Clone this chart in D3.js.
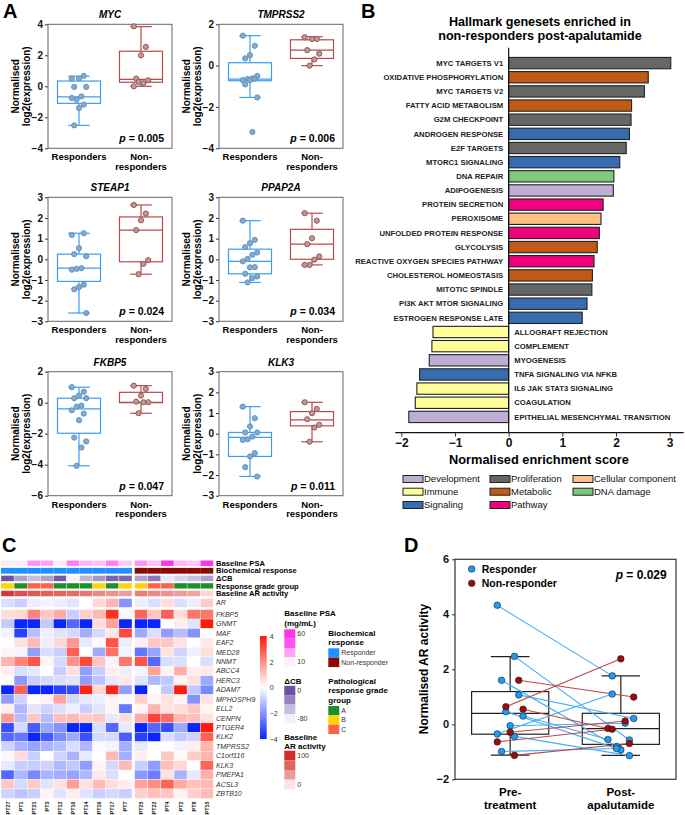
<!DOCTYPE html>
<html>
<head>
<meta charset="utf-8">
<script src="https://cdn.jsdelivr.net/npm/d3@7"></script>
<style>
  body { margin: 0; background: #fff; }
</style>
</head>
<body>
<svg id="fig" width="685" height="815"></svg>
<script>
// ---------- Panel A: per-gene expression ----------
var genesA = ["MYC", "TMPRSS2", "STEAP1", "PPAP2A", "FKBP5", "KLK3"];
var pValuesA = ["0.005", "0.006", "0.024", "0.034", "0.047", "0.011"];
var yDomainsA = [[-4, 4], [-4, 2], [-3, 3], [-3, 3], [-6, 2], [-3, 3]];
var yTicksA = [[-4, -2, 0, 2, 4], [-4, -2, 0, 2], [-3, -2, -1, 0, 1, 2, 3],
               [-3, -2, -1, 0, 1, 2, 3], [-6, -4, -2, 0, 2], [-3, -2, -1, 0, 1, 2, 3]];
var groupsA = ["Responders", "Non-responders"];

var mycResp = [0.5, 0.67, 0.5, -0.04, -0.04, -0.65, -0.86, -0.75, -1.18, -1.4, -2.52];
var mycNon = [3.87, 2.54, 2.0, 0.5, 0.39, 0.2, 0.28, 0];
var tmprss2Resp = [1.45, 0.96, 0.51, 0.35, -0.5, -0.62, -0.65, -0.7, -0.64, -0.7, -0.91, -1.54, -3.21];
var tmprss2Non = [1.37, 1.29, 1.29, 0.75, 0.58, 0.3, 0];
var steap1Resp = [1.18, 1.26, 0.54, 0.25, 0.15, -0.43, -0.46, -0.5, -1.23, -1.34, -1.45, -2.6];
var steap1Non = [2.63, 2.21, 1.89, 1.41, -0.04, -0.22, -0.72];
var ppap2aResp = [1.87, 0.94, 0.78, 0.59, 0.33, 0.22, 0.02, -0.1, -0.38, -0.39, -0.7, -0.83, -0.91, -1.12];
var ppap2aNon = [2.23, 1.87, 1.02, 0.73, 0.14, -0.02, -0.27, -0.27];
var fkbp5Resp = [1.0, 0.71, 0.46, 0.29, 0.29, -0.19, -0.25, -0.49, -0.7, -1.13, -2.25, -2.5, -2.89, -4.07];
var fkbp5Non = [1.1, 0.89, 0.46, 0.07, 0.03, 0.03, -0.68];
var klk3Resp = [1.31, 0.75, 0.35, 0.06, 0.06, -0.14, -0.27, -0.3, -0.94, -1.1, -1.62, -2.07];
var klk3Non = [1.52, 1.2, 0.99, 0.7, 0.43, 0.3, -0.39];

// box stats: [low whisker, q1, median, q3, high whisker]
var boxRespA = [[-2.52, -1.1, -0.68, 0.34, 0.65], [-1.54, -0.73, -0.65, 0.14, 1.45],
                [-2.6, -1.07, -0.43, 0.25, 1.26], [-1.12, -0.7, -0.1, 0.49, 1.87],
                [-4.07, -1.97, -0.4, 0.29, 1.0], [-2.07, -1.1, -0.18, 0.06, 1.31]];
var boxNonA = [[0, 0.26, 0.45, 2.26, 3.85], [0, 0.35, 0.75, 1.25, 1.4],
               [-0.72, -0.12, 1.41, 2.05, 2.63], [-0.27, 0, 0.73, 1.45, 2.23],
               [-0.68, 0, 0.03, 0.67, 1.1], [-0.39, 0.38, 0.67, 1.07, 1.52]];
var respPointsA = [mycResp, tmprss2Resp, steap1Resp, ppap2aResp, fkbp5Resp, klk3Resp];
var nonPointsA = [mycNon, tmprss2Non, steap1Non, ppap2aNon, fkbp5Non, klk3Non];

// ---------- Panel B: hallmark genesets ----------
var hallmarkSets = ["MYC TARGETS V1", "OXIDATIVE PHOSPHORYLATION", "MYC TARGETS V2", "FATTY ACID METABOLISM",
  "G2M CHECKPOINT", "ANDROGEN RESPONSE", "E2F TARGETS", "MTORC1 SIGNALING", "DNA REPAIR", "ADIPOGENESIS",
  "PROTEIN SECRETION", "PEROXISOME", "UNFOLDED PROTEIN RESPONSE", "GLYCOLYSIS", "REACTIVE OXYGEN SPECIES PATHWAY",
  "CHOLESTEROL HOMEOSTASIS", "MITOTIC SPINDLE", "PI3K AKT MTOR SIGNALING", "ESTROGEN RESPONSE LATE",
  "ALLOGRAFT REJECTION", "COMPLEMENT", "MYOGENESIS", "TNFA SIGNALING VIA NFKB", "IL6 JAK STAT3 SIGNALING",
  "COAGULATION", "EPITHELIAL MESENCHYMAL TRANSITION"];
var nesScores = [3.02, 2.60, 2.53, 2.29, 2.28, 2.25, 2.19, 2.07, 1.96, 1.95, 1.76, 1.72, 1.69, 1.65,
  1.59, 1.56, 1.55, 1.46, 1.37, -1.41, -1.43, -1.48, -1.66, -1.71, -1.74, -1.86];
var setClass = ["Proliferation", "Metabolic", "Proliferation", "Metabolic", "Proliferation", "Signaling",
  "Proliferation", "Signaling", "DNA damage", "Development", "Pathway", "Cellular component", "Pathway",
  "Metabolic", "Pathway", "Metabolic", "Proliferation", "Signaling", "Signaling", "Immune", "Immune",
  "Development", "Signaling", "Immune", "Immune", "Development"];
var classNames = ["Development", "Immune", "Signaling", "Proliferation", "Metabolic", "Pathway",
  "Cellular component", "DNA damage"];
var classColors = ["#beaed4", "#ffff99", "#386cb0", "#666666", "#bf5b17", "#f0027f", "#fdc086", "#7fc97f"];
var nesTicks = [-2, -1, 0, 1, 2, 3];

// ---------- Panel C: heatmap ----------
var samplesC = ["PT27", "PT1", "PT21", "PT3", "PT12", "PT10", "PT14", "PT16", "PT17", "PT7",
                "PT25", "PT22", "PT4", "PT2", "PT8", "PT15"];
var psaBaseline = [11, 11, 35, 30, 11, 40, 25, 22, 40, 20, 35, 22, 60, 25, 20, 60];
var biochemResponse = ["Responder", "Responder", "Responder", "Responder", "Responder", "Responder",
  "Responder", "Responder", "Responder", "Responder", "Non-responder", "Non-responder", "Non-responder",
  "Non-responder", "Non-responder", "Non-responder"];
var deltaCB = [0, -40, -55, -40, -5, -80, -50, -35, -10, -10, -40, -20, -75, -65, -55, -40];
var gradeGroup = ["B", "A", "C", "C", "A", "A", "A", "B", "A", "B", "B", "C", "C", "A", "A", "A"];
var arBaseline = [95, 80, 75, 72, 70, 65, 60, 50, 45, 40, 55, 50, 45, 40, 35, 8];
var arExpression = [-0.6, -0.9, -0.3, -0.2, -0.3, -0.5, 0, 0.7, 1.3, -2.0, -0.3, -0.6, 0.6, -0.6, -0.3, 0.9];
var annotRows = ["Baseline PSA", "Biochemical response", "\u0394CB", "Response grade group", "Baseline AR activity"];
var heatGenes = ["FKBP5", "GNMT", "MAF", "EAF2", "MED28", "NNMT", "ABCC4", "HERC3", "ADAM7", "MPHOSPH9",
  "ELL2", "CENPN", "PTGER4", "KLK2", "TMPRSS2", "C1orf116", "KLK3", "PMEPA1", "ACSL3", "ZBTB10"];
var heatValues = [
  [0.6, 0.7, 2.2, 1.0, 1.5, -0.9, 0.8, 1.2, 3.6, -0.1, 2.7, 1.0, 2.8, 0.6, 2.4, 2.4],
  [-1.0, -4, -4, -1.0, -4, -2.8, -4, 0.6, 1.6, -4, -4, -4, 0, 0.3, -0.5, 4],
  [-0.2, -3.5, -1.2, -0.3, -0.5, -0.7, -1.5, -0.7, 0.4, 3.2, -1.6, -0.6, -1.8, -1.2, -2.0, 0],
  [0, 0.5, 1.2, -0.3, 0.7, 1.8, -0.4, 0.1, 3.0, -0.3, 0.3, 1.0, 1.0, 0.5, 0, 0.4],
  [0.2, -0.2, -1.8, -0.6, -0.9, 2.8, 0, -1.6, 2.5, -0.2, -2.5, -1.7, 0.5, -0.8, -0.3, 0.6],
  [1.3, 2.2, 3.0, 0.2, -0.7, 1.9, 3.2, 1.0, -0.2, 2.4, 3.0, -2.8, -0.6, -0.6, 0, -0.6],
  [0.3, -0.6, -0.4, 0, -0.9, 0.5, -1.8, -0.9, 0.3, -0.3, -0.2, 1.6, 0.2, 1.4, 0.3, 0.4],
  [0, -1.9, -0.9, -0.7, -0.6, -0.5, -1.8, -1.1, -0.4, 0.4, -0.5, -1.3, -1.0, 0.2, 0.5, -1.6],
  [-4, 2.8, -4, -4, -3.5, -3.3, 3.8, 0.7, 3.8, -1.8, -4, 0, -1.0, 4, -1.0, -2.2],
  [-1.8, -0.8, 0, 0.2, 1.6, -0.7, -0.4, -0.3, 0.2, -0.1, 0.8, 0.2, 0.5, 0.2, -2.0, 0.5],
  [0.3, -1.3, -0.5, -0.8, -0.6, -0.3, -0.9, -0.5, 0.2, -2.5, 0.2, 1.3, 0.5, 0.6, 1.0, 0.2],
  [1.8, -1.2, 1.0, -1.2, 1.1, 1.2, 0.9, 1.0, -0.4, 0.6, 1.5, 3.3, 2.6, 1.2, 1.1, 0.5],
  [-3.3, -0.7, -3.0, -1.6, -2.0, -4, -4, -0.6, -2.8, -0.4, -4, -2.8, -3.3, -1.6, -4, 4],
  [-2.8, -2.5, -4, -3.0, -2.2, -1.6, -3.2, -0.7, -0.7, -3.0, -3.5, -4, -0.6, -1.0, -0.8, 2.8],
  [-0.8, -1.4, -1.7, -1.4, -1.2, -0.6, -1.3, -0.1, -0.2, -1.5, -0.4, 0, 0, -0.2, 0.3, 1.3],
  [-0.1, 0.6, -0.9, 0, -0.8, -1.4, -0.4, 0, 1.2, -1.5, 0.3, 0, 1.0, 0.1, 0.9, 1.3],
  [-0.4, -0.9, -0.9, -0.8, -1.3, -1.0, -1.8, 0.2, -0.7, 1.2, -0.9, -1.8, 1.1, 0.7, 0, 2.7],
  [-2.8, -1.3, -2.2, -1.4, -1.5, -1.7, -1.3, 0.4, -0.6, 0, -1.9, -2.4, 0.5, -1.4, -0.4, 1.4],
  [1.0, -0.7, 0.9, -0.5, 0.5, 1.7, 0.5, 1.2, 0.6, 0.3, 1.6, 2.0, 2.7, 1.5, 1.1, 1.2],
  [-0.8, -1.1, -0.9, 0.2, -0.5, 0.3, -0.5, -0.9, -0.7, -0.9, 0.8, 1.1, 1.0, 0.2, 0.8, 1.2]
];
var heatTicks = [-4, -2, 0, 2, 4];
var psaLegend = [60, 52, 30, 10];
var cbLegend = [0, -25, -55, -80];
var arLegend = [100, 70, 40, 0];
var responseNames = ["Responder", "Non-responder"];
var gradeNames = ["A", "B", "C"];

// ---------- Panel D: AR activity pre/post ----------
var respPre = [4.33, 2.47, 1.6, 1.07, 0.46, 0.3, -0.05, -0.35, -0.44, -0.99];
var respPost = [1.76, -0.57, -0.81, 0.21, -0.93, -0.55, 0.04, 1.1, -1.14, -0.88];
var nonPre = [1.6, 0.64, 0.55, -0.29, -0.64, -1.13];
var nonPost = [0.99, 2.38, -0.15, 0.12, -0.18, -0.7];
var preBox = [-1.12, -0.36, 0.4, 1.19, 2.46];
var postBox = [-1.13, -0.73, -0.16, 0.4, 1.76];
var timepoints = ["Pre-treatment", "Post-apalutamide"];
var arTicks = [-2, 0, 2, 4, 6];

// =====================================================================
var FONT = "'Liberation Sans', Arial, Helvetica, sans-serif";
var svg = d3.select("#fig").style("font-family", FONT);
var intFmt = d3.format("d");

function styleAxis(sel, size) {
  sel.attr("font-family", FONT).attr("font-size", size).attr("font-weight", "bold");
  sel.selectAll(".tick line").attr("stroke", "#333");
  sel.selectAll(".tick text").attr("fill", "#111");
}

function letter(t, x, y) {
  svg.append("text").attr("x", x).attr("y", y).attr("font-size", 20)
    .attr("font-weight", "bold").text(t);
}
letter("A", 3, 18);
letter("B", 361, 18);
letter("C", 2, 552);
letter("D", 404, 552);

// ---------- A ----------
var colX = [48, 219], rowY = [24.3, 197.3, 371.7];
var respCol = "#3d9df2", nonCol = "#b84a4a";
function jitter(k) { return ((k * 5) % 7 - 3) * 2.4; }

function drawBox(g, cx, bw, y, s, col, sw) {
  g.append("line").attr("x1", cx).attr("x2", cx).attr("y1", y(s[0])).attr("y2", y(s[1]))
    .attr("stroke", col).attr("stroke-width", sw);
  g.append("line").attr("x1", cx).attr("x2", cx).attr("y1", y(s[3])).attr("y2", y(s[4]))
    .attr("stroke", col).attr("stroke-width", sw);
  [s[0], s[4]].forEach(function(v) {
    g.append("line").attr("x1", cx - bw / 4).attr("x2", cx + bw / 4).attr("y1", y(v)).attr("y2", y(v))
      .attr("stroke", col).attr("stroke-width", sw);
  });
  g.append("rect").attr("x", cx - bw / 2).attr("width", bw).attr("y", y(s[3]))
    .attr("height", y(s[1]) - y(s[3])).attr("fill", "none").attr("stroke", col).attr("stroke-width", sw);
  g.append("line").attr("x1", cx - bw / 2).attr("x2", cx + bw / 2).attr("y1", y(s[2])).attr("y2", y(s[2]))
    .attr("stroke", col).attr("stroke-width", sw);
}

genesA.forEach(function(gene, i) {
  var w = 124, h = 124;
  var g = svg.append("g")
    .attr("transform", "translate(" + colX[i % 2] + "," + rowY[Math.floor(i / 2)] + ")");
  var x = d3.scaleBand().domain(groupsA).range([0, w]).paddingInner(0.306).paddingOuter(0.153);
  var y = d3.scaleLinear().domain(yDomainsA[i]).range([h, 0]);
  var bw = x.bandwidth();

  g.append("g").call(d3.axisLeft(y).tickValues(yTicksA[i]).tickFormat(intFmt).tickSize(3).tickPadding(2))
    .call(function(a) { a.select(".domain").remove(); styleAxis(a, 10); });
  g.append("rect").attr("width", w).attr("height", h).attr("fill", "none")
    .attr("stroke", "#666").attr("stroke-width", 1);

  var sets = [[respPointsA[i], boxRespA[i], respCol], [nonPointsA[i], boxNonA[i], nonCol]];
  sets.forEach(function(st, j) {
    var cx = x(groupsA[j]) + bw / 2;
    drawBox(g, cx, bw, y, st[1], st[2], 1.2);
    g.selectAll(null).data(st[0]).enter().append("circle")
      .attr("cx", function(d, k) { return cx + jitter(k); })
      .attr("cy", function(d) { return y(d); })
      .attr("r", 2.6).attr("fill", "#a3a3a3").attr("stroke", st[2]).attr("stroke-width", 1);
  });

  g.append("text").attr("x", w / 2).attr("y", -6).attr("text-anchor", "middle")
    .attr("font-size", 10).attr("font-weight", "bold").attr("font-style", "italic").text(gene);
  var pt = g.append("text").attr("x", w - 8).attr("y", h - 6).attr("text-anchor", "end")
    .attr("font-size", 10.5).attr("font-weight", "bold");
  pt.append("tspan").attr("font-style", "italic").text("p");
  pt.append("tspan").text(" = " + pValuesA[i]);

  var lab = g.append("g").attr("font-size", 9.5).attr("font-weight", "bold").attr("text-anchor", "middle");
  lab.append("text").attr("x", x("Responders") + bw / 2).attr("y", h + 12).text("Responders");
  lab.append("text").attr("x", x("Non-responders") + bw / 2).attr("y", h + 12).text("Non-");
  lab.append("text").attr("x", x("Non-responders") + bw / 2).attr("y", h + 21.5).text("responders");

  var yt = g.append("g").attr("font-size", 10).attr("font-weight", "bold").attr("text-anchor", "middle");
  yt.append("text").attr("transform", "translate(-29," + h / 2 + ") rotate(-90)").text("Normalised");
  yt.append("text").attr("transform", "translate(-18," + h / 2 + ") rotate(-90)").text("log2(expression)");
});

// ---------- B ----------
(function() {
  var xB = d3.scaleLinear().domain([-2, 3]).range([401.3, 669.7]);
  var yB = d3.scaleBand().domain(hallmarkSets).range([54.6, 425.4]).padding(0.2);
  var color = d3.scaleOrdinal().domain(classNames).range(classColors);
  var g = svg.append("g");

  g.append("text").attr("x", 540).attr("y", 26).attr("text-anchor", "middle")
    .attr("font-size", 12.6).attr("font-weight", "bold").text("Hallmark genesets enriched in");
  g.append("text").attr("x", 540).attr("y", 40.2).attr("text-anchor", "middle")
    .attr("font-size", 12.6).attr("font-weight", "bold").text("non-responders post-apalutamide");

  g.selectAll("rect.bar").data(hallmarkSets).enter().append("rect").attr("class", "bar")
    .attr("x", function(d, i) { return xB(Math.min(0, nesScores[i])); })
    .attr("width", function(d, i) { return Math.abs(xB(nesScores[i]) - xB(0)); })
    .attr("y", function(d) { return yB(d); })
    .attr("height", yB.bandwidth())
    .attr("fill", function(d, i) { return color(setClass[i]); })
    .attr("stroke", "#222").attr("stroke-width", 1.1);

  g.selectAll("text.lab").data(hallmarkSets).enter().append("text").attr("class", "lab")
    .attr("x", function(d, i) { return nesScores[i] >= 0 ? xB(0) - 5.4 : xB(0) + 5.6; })
    .attr("y", function(d) { return yB(d) + yB.bandwidth() / 2; })
    .attr("dy", "0.35em")
    .attr("text-anchor", function(d, i) { return nesScores[i] >= 0 ? "end" : "start"; })
    .attr("font-size", 7.7).attr("font-weight", "bold").attr("fill", "#222")
    .text(function(d) { return d; });

  var axisY = 432.7;
  g.append("line").attr("x1", xB(0)).attr("x2", xB(0)).attr("y1", 47.7).attr("y2", axisY)
    .attr("stroke", "#111").attr("stroke-width", 1.2);
  g.append("line").attr("x1", xB.range()[0] - 6).attr("x2", xB.range()[1] + 14)
    .attr("y1", axisY).attr("y2", axisY).attr("stroke", "#111").attr("stroke-width", 1.2);
  g.append("g").attr("transform", "translate(0," + axisY + ")")
    .call(d3.axisBottom(xB).tickValues(nesTicks).tickFormat(intFmt).tickSize(4).tickPadding(2))
    .call(function(a) { a.select(".domain").remove(); styleAxis(a, 12); });
  g.append("text").attr("x", 539).attr("y", 464).attr("text-anchor", "middle")
    .attr("font-size", 12.8).attr("font-weight", "bold").text("Normalised enrichment score");

  var legX = [403, 490, 573], legY = [479, 491.7, 505];
  classNames.forEach(function(c, i) {
    var lx = legX[Math.floor(i / 3)], ly = legY[i % 3];
    g.append("rect").attr("x", lx).attr("y", ly - 3.5).attr("width", 20).attr("height", 7)
      .attr("fill", color(c)).attr("stroke", "#222").attr("stroke-width", 1);
    g.append("text").attr("x", lx + 21).attr("y", ly).attr("dy", "0.35em")
      .attr("font-size", 9.5).attr("fill", "#111").text(c);
  });
})();

// ---------- C ----------
(function() {
  var g = svg.append("g");
  var xC = d3.scaleBand().domain(samplesC).range([1, 210.6]);
  function cellX(i) { return xC(samplesC[i]) + (biochemResponse[i] === "Non-responder" ? 2.7 : 0); }
  var cw = xC.bandwidth();
  var yAnn = d3.scaleBand().domain(annotRows).range([560.3, 596.4]).paddingInner(0.234);
  var yGene = d3.scaleBand().domain(heatGenes).range([609.6, 798.4]);
  var arTop = 598.6, arH = 8.7;

  var heatColor = d3.scaleLinear().domain([-4, 0, 4]).range(["#0a26ff", "#ffffff", "#ff1a0a"]).clamp(true);
  var psaColor = d3.scaleLinear().domain([10, 60]).range(["#fff0fb", "#ff33ea"]);
  var cbColor = d3.scaleLinear().domain([-80, 0]).range(["#f3f0f8", "#6a51a3"]);
  var arColor = d3.scaleLinear().domain([0, 100]).range(["#fde4e4", "#d42f27"]);
  var respColor = d3.scaleOrdinal().domain(responseNames).range(["#1e90ff", "#8b0a00"]);
  var gradeColor = d3.scaleOrdinal().domain(gradeNames).range(["#1f8f2a", "#ffd500", "#ff6347"]);

  var annFill = [
    function(i) { return psaColor(psaBaseline[i]); },
    function(i) { return respColor(biochemResponse[i]); },
    function(i) { return cbColor(deltaCB[i]); },
    function(i) { return gradeColor(gradeGroup[i]); },
    function(i) { return arColor(arBaseline[i]); }
  ];
  annotRows.forEach(function(r, ri) {
    samplesC.forEach(function(s, i) {
      g.append("rect").attr("x", cellX(i)).attr("y", yAnn(r)).attr("width", cw)
        .attr("height", yAnn.bandwidth()).attr("fill", annFill[ri](i))
        .attr("stroke", ri === 1 ? "none" : "#fff").attr("stroke-width", 0.35);
    });
    g.append("text").attr("x", 216).attr("y", yAnn(r) + yAnn.bandwidth() / 2).attr("dy", "0.35em")
      .attr("font-size", 7.6).attr("font-weight", "bold").text(r);
  });

  samplesC.forEach(function(s, i) {
    g.append("rect").attr("x", cellX(i)).attr("y", arTop).attr("width", cw).attr("height", arH)
      .attr("fill", heatColor(arExpression[i])).attr("stroke", "#fff").attr("stroke-width", 0.35);
  });
  g.append("text").attr("x", 216).attr("y", arTop + arH / 2).attr("dy", "0.35em")
    .attr("font-size", 7).attr("font-style", "italic").attr("fill", "#333").text("AR");

  heatGenes.forEach(function(gn, r) {
    heatValues[r].forEach(function(v, i) {
      g.append("rect").attr("x", cellX(i)).attr("y", yGene(gn)).attr("width", cw)
        .attr("height", yGene.bandwidth()).attr("fill", heatColor(v))
        .attr("stroke", "#fff").attr("stroke-width", 0.35);
    });
    g.append("text").attr("x", 216).attr("y", yGene(gn) + yGene.bandwidth() / 2).attr("dy", "0.35em")
      .attr("font-size", 7).attr("font-style", "italic").attr("fill", "#333").text(gn);
  });

  samplesC.forEach(function(s, i) {
    g.append("text").attr("transform", "translate(" + (cellX(i) + cw / 2 + 2) + ",801.5) rotate(-90)")
      .attr("text-anchor", "end").attr("font-size", 5.4).attr("font-weight", "bold")
      .attr("fill", "#222").text(s);
  });

  // colour bar
  var defs = svg.append("defs");
  var grad = defs.append("linearGradient").attr("id", "hmGrad")
    .attr("x1", 0).attr("y1", 0).attr("x2", 0).attr("y2", 1);
  [4, 2, 0, -2, -4].forEach(function(v, k) {
    grad.append("stop").attr("offset", (k * 25) + "%").attr("stop-color", heatColor(v));
  });
  var yBar = d3.scaleLinear().domain([-4, 4]).range([739, 636]);
  g.append("rect").attr("x", 260).attr("y", 636).attr("width", 6.7).attr("height", 103)
    .attr("fill", "url(#hmGrad)");
  g.append("g").attr("transform", "translate(266.7,0)")
    .call(d3.axisRight(yBar).tickValues(heatTicks).tickFormat(intFmt).tickSize(0).tickPadding(3))
    .call(function(a) {
      a.select(".domain").remove();
      a.attr("font-family", FONT).attr("font-size", 7);
      a.selectAll("text").attr("fill", "#333");
    });

  function title(lines, x, y0) {
    lines.forEach(function(t, k) {
      g.append("text").attr("x", x).attr("y", y0 + k * 9.5).attr("font-size", 8)
        .attr("font-weight", "bold").text(t);
    });
  }
  function stack(vals, colorFn, x, y0, h, labels) {
    vals.forEach(function(v, k) {
      g.append("rect").attr("x", x).attr("y", y0 + k * h).attr("width", 11).attr("height", h)
        .attr("fill", colorFn(v));
    });
    labels.forEach(function(l) {
      g.append("text").attr("x", x + 13).attr("y", y0 + l[0] * h + h / 2).attr("dy", "0.35em")
        .attr("font-size", 7).attr("fill", "#333").text(l[1]);
    });
  }
  title(["Baseline PSA", "(mg/mL)"], 284.3, 616.3);
  stack(psaLegend, psaColor, 284.3, 629.3, 9.35, [[0, "60"], [3, "10"]]);
  title(["\u0394CB"], 284.3, 683.6);
  stack(cbLegend, cbColor, 284.3, 685.8, 9.4, [[0, "0"], [3, "-80"]]);
  title(["Baseline", "AR activity"], 284.3, 739.6);
  stack(arLegend, arColor, 284.3, 750.7, 9.65, [[0, "100"], [3, "0"]]);

  title(["Biochemical", "response"], 328.3, 635.6);
  stack(responseNames, respColor, 328.3, 648.3, 9.4, [[0, "Responder"], [1, "Non-responder"]]);
  title(["Pathological", "response grade", "group"], 328.3, 683.6);
  stack(gradeNames, gradeColor, 328.3, 706, 9.35, [[0, "A"], [1, "B"], [2, "C"]]);
})();

// ---------- D ----------
(function() {
  var g = svg.append("g");
  var x = d3.scaleBand().domain(timepoints).range([455, 676]).paddingInner(0.303).paddingOuter(0.15);
  var y = d3.scaleLinear().domain([-2, 6]).range([779.3, 559.3]);
  var bw = x.bandwidth();
  var cPre = x(timepoints[0]) + bw / 2, cPost = x(timepoints[1]) + bw / 2;
  function jit(k) { return ((k * 4) % 7 - 3) * 4.3; }

  g.append("rect").attr("x", 455).attr("y", 559.3).attr("width", 221).attr("height", 220)
    .attr("fill", "none").attr("stroke", "#333").attr("stroke-width", 1.2);
  g.append("g").attr("transform", "translate(455,0)")
    .call(d3.axisLeft(y).tickValues(arTicks).tickFormat(intFmt).tickSize(3).tickPadding(3))
    .call(function(a) { a.select(".domain").remove(); styleAxis(a, 11); });

  drawBox(g, cPre, bw, y, preBox, "#222", 1.2);
  drawBox(g, cPost, bw, y, postBox, "#222", 1.2);

  var series = [[respPre, respPost, "#4aaef5", "#1e9bf5", 0], [nonPre, nonPost, "#c0474a", "#9b0d0d", 3]];
  series.forEach(function(s) {
    s[0].forEach(function(v, k) {
      g.append("line").attr("x1", cPre + jit(k + s[4])).attr("y1", y(v))
        .attr("x2", cPost + jit(k + s[4] + 2)).attr("y2", y(s[1][k]))
        .attr("stroke", s[2]).attr("stroke-width", 1.1);
    });
  });
  series.forEach(function(s) {
    s[0].forEach(function(v, k) {
      g.append("circle").attr("cx", cPre + jit(k + s[4])).attr("cy", y(v)).attr("r", 3.3)
        .attr("fill", s[3]).attr("stroke", "#222").attr("stroke-width", 0.6);
      g.append("circle").attr("cx", cPost + jit(k + s[4] + 2)).attr("cy", y(s[1][k])).attr("r", 3.3)
        .attr("fill", s[3]).attr("stroke", "#222").attr("stroke-width", 0.6);
    });
  });

  [["Responder", "#1e9bf5", 569], ["Non-responder", "#9b0d0d", 583.3]].forEach(function(l) {
    g.append("circle").attr("cx", 471.7).attr("cy", l[2]).attr("r", 3.3)
      .attr("fill", l[1]).attr("stroke", "#222").attr("stroke-width", 0.6);
    g.append("text").attr("x", 481.7).attr("y", l[2]).attr("dy", "0.35em")
      .attr("font-size", 10.5).attr("font-weight", "bold").text(l[0]);
  });
  var pt = g.append("text").attr("x", 666.7).attr("y", 578.5).attr("text-anchor", "end")
    .attr("font-size", 12).attr("font-weight", "bold");
  pt.append("tspan").attr("font-style", "italic").text("p");
  pt.append("tspan").text(" = 0.029");

  g.append("text").attr("transform", "translate(428,669) rotate(-90)").attr("text-anchor", "middle")
    .attr("font-size", 12).attr("font-weight", "bold").text("Normalised AR activity");
  var lab = g.append("g").attr("font-size", 11.5).attr("font-weight", "bold").attr("text-anchor", "middle");
  lab.append("text").attr("x", cPre).attr("y", 796).text("Pre-");
  lab.append("text").attr("x", cPre).attr("y", 808.5).text("treatment");
  lab.append("text").attr("x", cPost).attr("y", 796).text("Post-");
  lab.append("text").attr("x", cPost).attr("y", 808.5).text("apalutamide");
})();
</script>
</body>
</html>
